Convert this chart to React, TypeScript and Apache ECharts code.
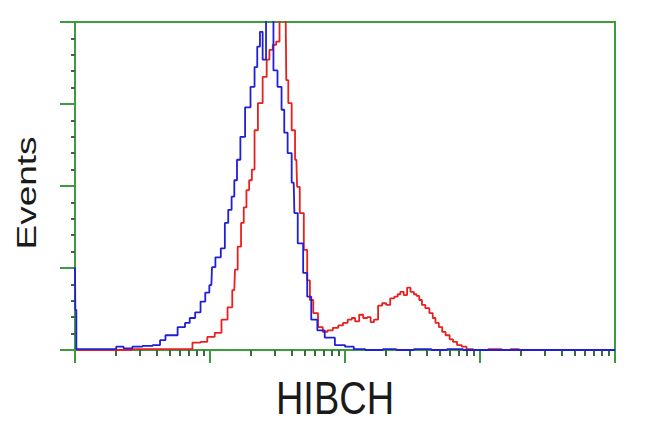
import React, { useEffect, useRef } from "react";
import * as echarts from "echarts";

// x positions are in log decades (0 = 10^0 ... 4 = 10^4), y = events
const blueDecade = [0.0, 0.005, 0.015, 0.16, 0.28, 0.33, 0.39, 0.46, 0.54, 0.61, 0.65, 0.69, 0.72, 0.8, 0.83, 0.87, 0.91, 0.95, 0.98, 1.01, 1.02, 1.06, 1.1, 1.12, 1.15, 1.17, 1.19, 1.21, 1.24, 1.28, 1.32, 1.34, 1.36, 1.38, 1.4, 1.43, 1.46, 1.48, 1.52, 1.54, 1.56, 1.59, 1.62, 1.63, 1.67, 1.71, 1.73, 1.77, 1.82, 1.88, 1.97, 2.03, 2.1, 2.2, 2.36, 2.4, 2.62, 2.66, 2.85, 2.9, 4.0];
const blueEvents = [101, 49, 1, 1, 1, 4, 2, 4, 5, 6, 12, 18, 18, 28, 33, 39, 46, 59, 70, 79, 101, 113, 124, 155, 171, 187, 207, 232, 260, 296, 321, 345, 370, 388, 354, 420, 420, 341, 321, 293, 265, 240, 204, 167, 130, 94, 65, 37, 24, 15, 6, 4, 1, 0, 1, 0, 1, 0, 1, 0, 0];

const redDecade = [0.015, 0.83, 0.91, 0.95, 1.01, 1.06, 1.11, 1.15, 1.18, 1.19, 1.22, 1.24, 1.26, 1.28, 1.3, 1.32, 1.34, 1.37, 1.41, 1.43, 1.45, 1.48, 1.5, 1.53, 1.56, 1.57, 1.59, 1.62, 1.64, 1.65, 1.68, 1.71, 1.73, 1.75, 1.78, 1.82, 1.85, 1.89, 1.93, 1.97, 2.0, 2.04, 2.06, 2.09, 2.12, 2.15, 2.18, 2.2, 2.23, 2.26, 2.29, 2.32, 2.35, 2.38, 2.4, 2.42, 2.45, 2.47, 2.5, 2.52, 2.54, 2.56, 2.58, 2.61, 2.64, 2.66, 2.68, 2.71, 2.73, 2.76, 2.79, 2.81, 2.85, 2.88, 2.92, 2.98, 3.14, 3.18, 3.27, 3.31, 4.0];
const redEvents = [0, 1, 9, 10, 16, 21, 37, 52, 73, 98, 126, 155, 174, 195, 207, 220, 268, 301, 333, 354, 366, 372, 376, 420, 420, 329, 301, 268, 232, 199, 167, 122, 85, 61, 45, 28, 22, 24, 27, 30, 33, 37, 39, 35, 43, 39, 40, 34, 37, 54, 57, 55, 63, 65, 68, 71, 67, 76, 71, 68, 66, 61, 55, 51, 45, 39, 33, 28, 22, 18, 13, 10, 6, 4, 1, 0, 1, 0, 1, 0, 0];

const xMin = 1;
const xMax = 10000;
const yMax = 400;
const yInterval = 100;

const axisGreen = "#3f9b3f";
const tickDark = "#3b6b3b";

const toPoints = (dec: number[], ev: number[]) =>
  dec.map((d, i) => [Math.pow(10, d), ev[i]]);

export default function App() {
  const ref = useRef<HTMLDivElement>(null);
  useEffect(() => {
    if (!ref.current) return;
    const chart = echarts.init(ref.current, null, { renderer: "svg" });
    chart.setOption({
      animation: false,
      backgroundColor: "#ffffff",
      grid: {
        left: 75,
        right: 35,
        top: 22,
        bottom: 82,
        show: true,
        borderColor: axisGreen,
        borderWidth: 2,
      },
      xAxis: {
        type: "log",
        logBase: 10,
        min: xMin,
        max: xMax,
        splitNumber: 4,
        axisLine: { show: true, lineStyle: { color: axisGreen, width: 2 } },
        axisTick: { show: true, length: 13, lineStyle: { color: axisGreen, width: 2 } },
        minorTick: { show: true, splitNumber: 9, length: 6, lineStyle: { color: tickDark, width: 2 } },
        axisLabel: { show: false },
        splitLine: { show: false },
        minorSplitLine: { show: false },
      },
      yAxis: {
        type: "value",
        min: 0,
        max: yMax,
        interval: yInterval,
        axisLine: { show: true, lineStyle: { color: axisGreen, width: 2 } },
        axisTick: { show: true, length: 15, lineStyle: { color: axisGreen, width: 2 } },
        minorTick: { show: true, splitNumber: 5, length: 4, lineStyle: { color: tickDark, width: 2 } },
        axisLabel: { show: false },
        splitLine: { show: false },
      },
      series: [
        {
          type: "line",
          data: toPoints(redDecade, redEvents),
          showSymbol: false,
          symbol: "none",
          step: "middle",
          clip: true,
          lineStyle: { color: "#e8201f", width: 1.8 },
          z: 2,
        },
        {
          type: "line",
          data: toPoints(blueDecade, blueEvents),
          showSymbol: false,
          symbol: "none",
          step: "middle",
          clip: true,
          lineStyle: { color: "#1f1fd8", width: 1.8 },
          z: 3,
        },
      ],
      graphic: [
        {
          type: "text",
          x: 27,
          y: 193,
          rotation: Math.PI / 2,
          scaleX: 1.37,
          style: {
            text: "Events",
            fontSize: 27,
            fontFamily: "Liberation Sans, Arial, sans-serif",
            fill: "#1a1a1a",
            align: "center",
            verticalAlign: "middle",
          },
        },
        {
          type: "text",
          x: 335,
          y: 398,
          scaleY: 1.2,
          style: {
            text: "HIBCH",
            fontSize: 38,
            fontFamily: "Liberation Sans, Arial, sans-serif",
            fill: "#1a1a1a",
            align: "center",
            verticalAlign: "middle",
          },
        },
      ],
    });
    return () => chart.dispose();
  }, []);
  return (
    <div
      ref={ref}
      style={{ position: "absolute", left: 0, top: 0, width: 650, height: 432 }}
    />
  );
}
